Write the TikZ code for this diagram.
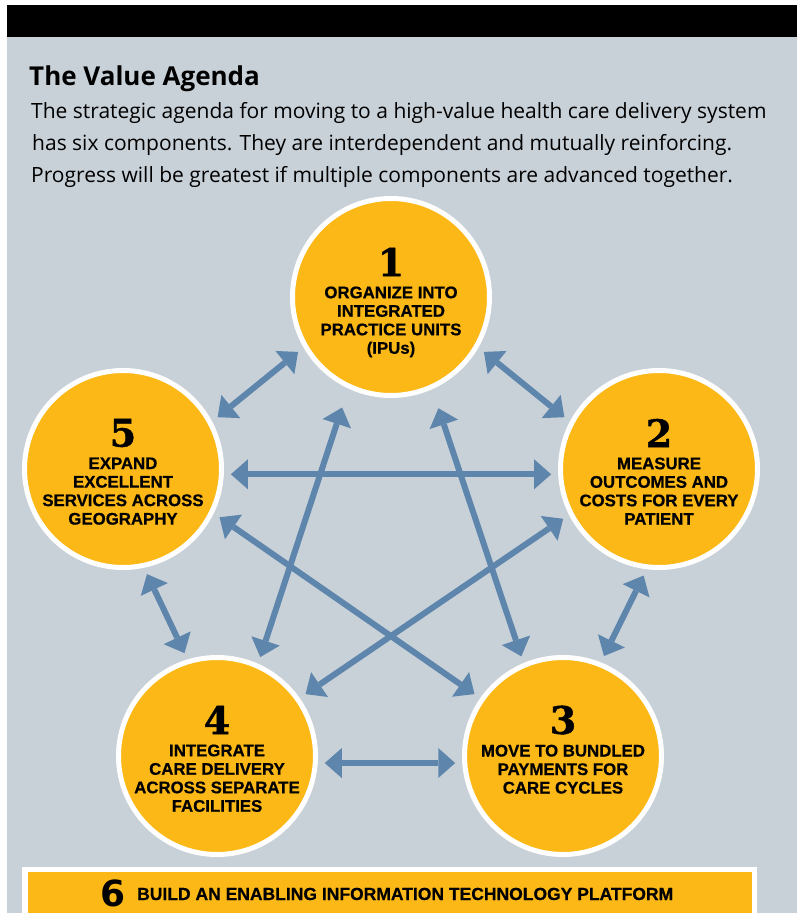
\documentclass[tikz,border=0pt]{standalone}
\usepackage{fontspec}
\setmainfont{Open Sans}
\newfontfamily\capsfont{Liberation Sans}[BoldFeatures={FakeBold=0.6}]
\newfontfamily\digitfont{DejaVu Serif}[BoldFeatures={FakeBold=1.2}]
\newfontfamily\sixfont{DejaVu Sans}
\usetikzlibrary{positioning,arrows.meta}
\definecolor{panelgray}{HTML}{C9D1D8}
\definecolor{valueyellow}{HTML}{FCB816}
\definecolor{linkblue}{HTML}{5E86AC}

\begin{document}
\begin{tikzpicture}[x=1pt,y=-1pt,
    stage/.style={circle,fill=valueyellow,draw=white,line width=5pt,minimum size=197pt,inner sep=0pt},
    num/.style={font=\digitfont\bfseries\fontsize{38}{38}\selectfont,inner sep=0pt},
    desc/.style={font=\capsfont\bfseries\fontsize{16.8}{18.5}\selectfont,align=center,inner sep=0pt},
    link/.style={color=linkblue,line width=6pt,
      {Triangle[length=17pt,width=30pt,line width=0pt]}-{Triangle[length=17pt,width=30pt,line width=0pt]},
      shorten <=7pt,shorten >=7pt}]

  \useasboundingbox (0,0) rectangle (797,913);
  \clip (0,0) rectangle (797,913);
  \fill[panelgray] (7,36) rectangle (797,913);
  \fill[black] (7,5) rectangle (797,37);

  \node[anchor=base west,inner sep=0pt,font=\bfseries\fontsize{26}{26}\selectfont] (title) at (29,85) {The Value Agenda};
  \node[anchor=base west,inner sep=0pt,font=\fontsize{21}{21}\selectfont] (intro1) at (31,118) {The strategic agenda for moving to a high-value health care delivery system};
  \node[anchor=base west,inner sep=0pt,font=\fontsize{21}{21}\selectfont] (intro2) at (32,150) {has six components. They are interdependent and mutually reinforcing.};
  \node[anchor=base west,inner sep=0pt,font=\fontsize{21}{21}\selectfont] (intro3) at (31,182) {Progress will be greatest if multiple components are advanced together.};

  \node[stage] (1) at (391,297) {};
  \node[stage] (2) at (659,469) {};
  \node[stage] (3) at (563,756) {};
  \node[stage] (4) at (217,756) {};
  \node[stage] (5) at (123,469) {};

  \node[num] (n1) at ([yshift=35pt]1.center) {1};
  \node[desc,below=10pt of n1] (t1) {ORGANIZE INTO\\INTEGRATED\\PRACTICE UNITS\\(IPUs)};
  \node[num] (n2) at ([yshift=36pt]2.center) {2};
  \node[desc,below=10pt of n2] (t2) {MEASURE\\OUTCOMES AND\\COSTS FOR EVERY\\PATIENT};
  \node[num] (n3) at ([yshift=36pt]3.center) {3};
  \node[desc,below=10pt of n3] (t3) {MOVE TO BUNDLED\\PAYMENTS FOR\\CARE CYCLES};
  \node[num] (n4) at ([yshift=36pt]4.center) {4};
  \node[desc,below=10pt of n4] (t4) {INTEGRATE\\CARE DELIVERY\\ACROSS SEPARATE\\FACILITIES};
  \node[num] (n5) at ([yshift=36pt]5.center) {5};
  \node[desc,below=10pt of n5] (t5) {EXPAND\\EXCELLENT\\SERVICES ACROSS\\GEOGRAPHY};

  \path[link]
    (1.210) edge (5.28)
    (1.330) edge (2.152)
    (5.357) edge (2.183)
    (5.334) edge (3.145)
    (2.207) edge (4.35)
    (1.245) edge[shorten <=20pt] (4.66)
    (1.294) edge[shorten <=20pt] (3.113)
    (5.282) edge (4.107)
    (2.263) edge (3.68)
    (4.356) edge (3.184);

  \draw[white,fill=valueyellow,line width=5.5pt] (25,869.5) rectangle (754.5,930);
  \node[inner sep=0pt,font=\sixfont\bfseries\fontsize{36}{36}\selectfont] (n6) at (113,893) {6};
  \node[anchor=base west,inner sep=0pt,font=\capsfont\bfseries\fontsize{17.5}{17.5}\selectfont] (t6) at (137,900) {BUILD AN ENABLING INFORMATION TECHNOLOGY PLATFORM};
\end{tikzpicture}
\end{document}
